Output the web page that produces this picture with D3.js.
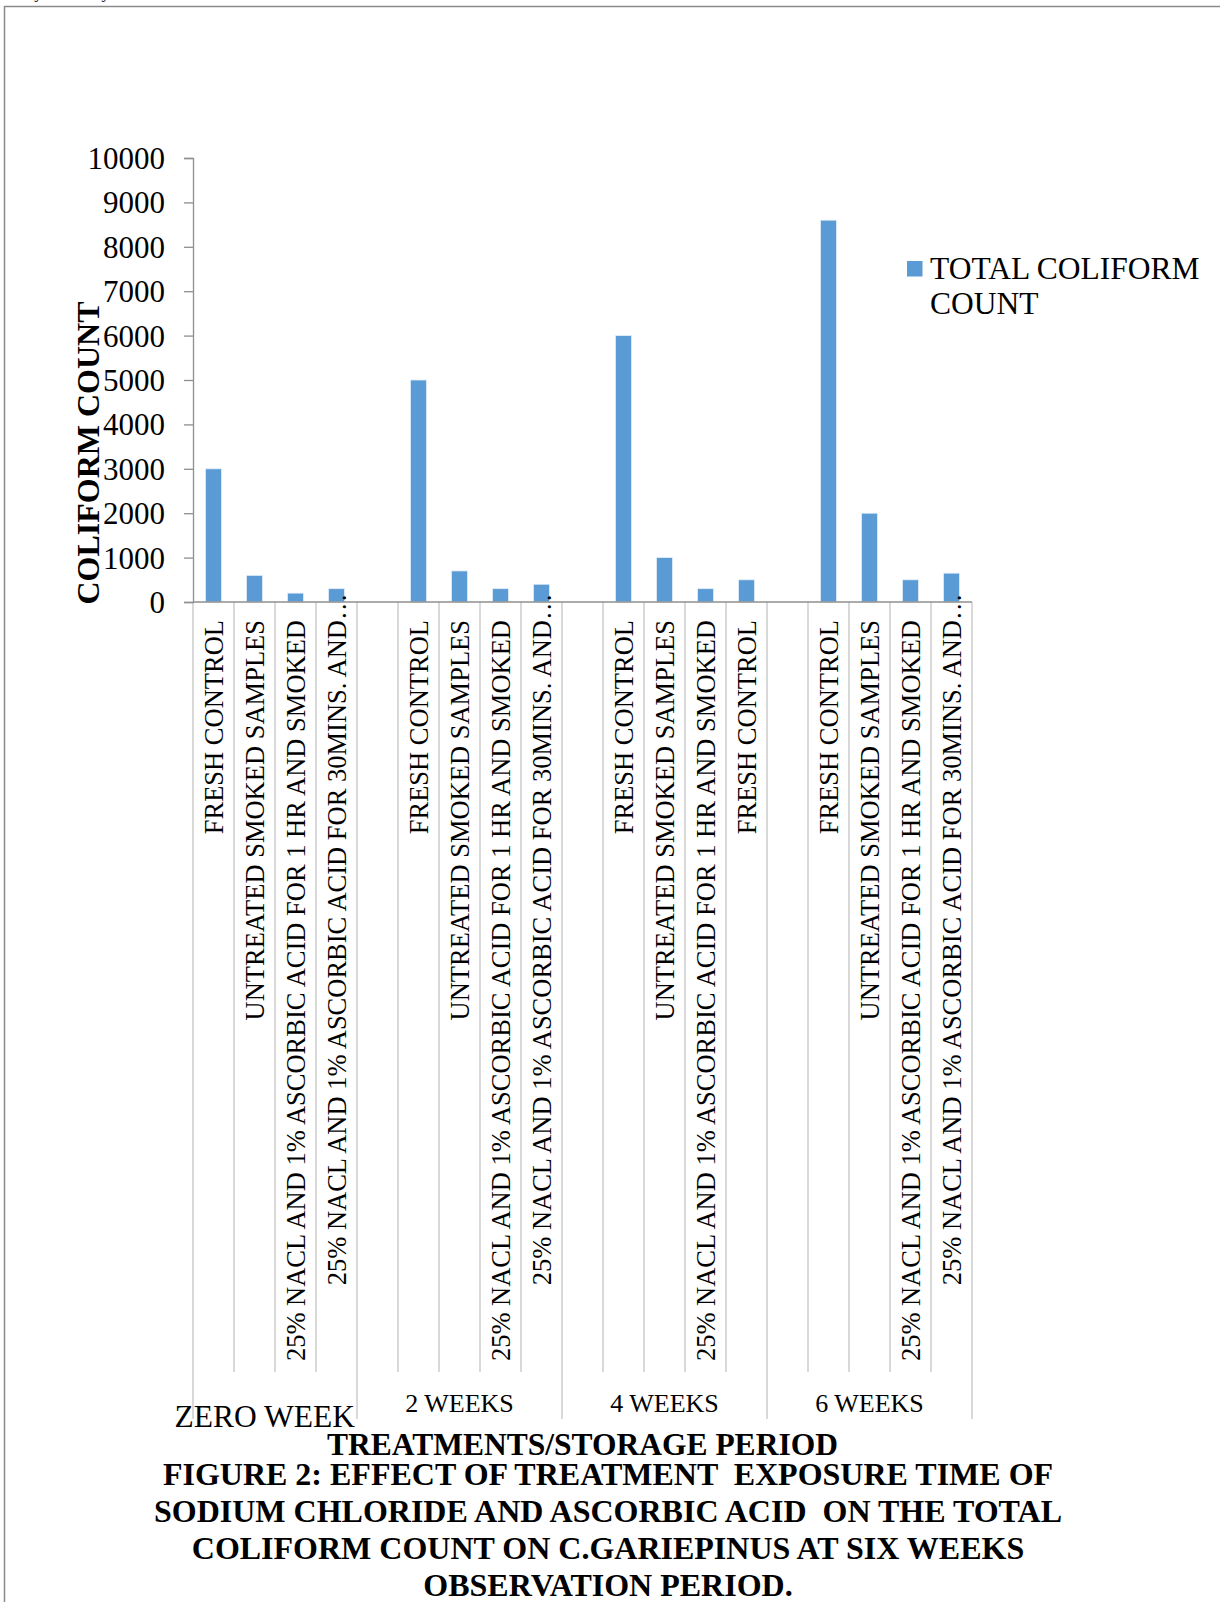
<!DOCTYPE html>
<html>
<head>
<meta charset="utf-8">
<script src="https://cdn.jsdelivr.net/npm/d3@7"></script>
<style>
  html, body { margin: 0; padding: 0; background: #fff; }
  svg { display: block; }
  text { font-family: "Liberation Serif", "Times New Roman", serif; fill: #000; }
</style>
</head>
<body>
<svg id="chart" width="1220" height="1602"></svg>
<script>
// Storage periods and how many category slots each one spans on the axis
const periods = ["ZERO WEEK", "2 WEEKS", "4 WEEKS", "6 WEEKS"];
const periodSlots = [4, 5, 5, 5];

// Category labels, one per slot (blank slots separate the periods)
const categoryLabels = [
  "FRESH CONTROL",
  "UNTREATED SMOKED SAMPLES",
  "25% NACL AND 1% ASCORBIC ACID FOR 1 HR AND SMOKED",
  "25% NACL AND 1% ASCORBIC ACID FOR 30MINS. AND…",
  "",
  "FRESH CONTROL",
  "UNTREATED SMOKED SAMPLES",
  "25% NACL AND 1% ASCORBIC ACID FOR 1 HR AND SMOKED",
  "25% NACL AND 1% ASCORBIC ACID FOR 30MINS. AND…",
  "",
  "FRESH CONTROL",
  "UNTREATED SMOKED SAMPLES",
  "25% NACL AND 1% ASCORBIC ACID FOR 1 HR AND SMOKED",
  "FRESH CONTROL",
  "",
  "FRESH CONTROL",
  "UNTREATED SMOKED SAMPLES",
  "25% NACL AND 1% ASCORBIC ACID FOR 1 HR AND SMOKED",
  "25% NACL AND 1% ASCORBIC ACID FOR 30MINS. AND…"
];

// Total coliform count per slot (null = blank slot)
const coliformCounts = [
  3000, 600, 200, 300,
  null, 5000, 700, 300, 400,
  null, 6000, 1000, 300, 500,
  null, 8600, 2000, 500, 650
];

const yTicks = [0, 1000, 2000, 3000, 4000, 5000, 6000, 7000, 8000, 9000, 10000];

const seriesName = ["TOTAL COLIFORM", "COUNT"];
const yTitle = "COLIFORM COUNT";
const xTitle = "TREATMENTS/STORAGE PERIOD";
const captionLines = [
  "FIGURE 2: EFFECT OF TREATMENT  EXPOSURE TIME OF",
  "SODIUM CHLORIDE AND ASCORBIC ACID  ON THE TOTAL",
  "COLIFORM COUNT ON C.GARIEPINUS AT SIX WEEKS",
  "OBSERVATION PERIOD."
];
const headerLeft = "January-February 2013";
const headerRight = "IOSR Journal of Research";

const barColor = "#5B9BD5";
const axisColor = "#8f8f8f";
const gridColor = "#b3b3b3";

const svg = d3.select("#chart");

// Page frame and running header (sits above the top edge of the page crop)
svg.append("line").attr("x1", 4).attr("x2", 1220).attr("y1", 6.5).attr("y2", 6.5)
  .attr("stroke", "#8a8a8a").attr("stroke-width", 1.5);
svg.append("line").attr("x1", 4.5).attr("x2", 4.5).attr("y1", 6).attr("y2", 1602)
  .attr("stroke", "#8a8a8a").attr("stroke-width", 1.5);
svg.append("text").attr("x", -10).attr("y", -2).attr("font-size", 17).attr("fill", "#555").text(headerLeft);
svg.append("text").attr("x", 905).attr("y", -2).attr("font-size", 17).attr("fill", "#555").text(headerRight);

// Scales
const plotLeft = 193, plotRight = 972, plotTop = 158, plotBottom = 602;
const x = d3.scaleBand().domain(d3.range(categoryLabels.length)).range([plotLeft, plotRight]);
const y = d3.scaleLinear().domain([0, 10000]).range([plotBottom, plotTop]);
const bw = x.bandwidth();

// Category separators: short between slots, long at period edges
const periodEdges = [0];
periodSlots.forEach(n => periodEdges.push(periodEdges[periodEdges.length - 1] + n));
const edgeX = i => (i < categoryLabels.length ? x(i) : x.range()[1]);
const boundaries = d3.range(categoryLabels.length + 1);
svg.append("g").selectAll("line").data(boundaries).join("line")
  .attr("x1", edgeX)
  .attr("x2", edgeX)
  .attr("y1", plotBottom)
  .attr("y2", i => periodEdges.includes(i) ? 1419 : 1372)
  .attr("stroke", gridColor).attr("stroke-width", 1);

// Bars
const barW = bw * 0.39;
svg.append("g").selectAll("rect")
  .data(coliformCounts.map((v, i) => ({ v, i })).filter(d => d.v !== null))
  .join("rect")
  .attr("x", d => x(d.i) + (bw - barW) / 2)
  .attr("width", barW)
  .attr("y", d => y(d.v))
  .attr("height", d => y(0) - y(d.v))
  .attr("fill", barColor)
  .attr("stroke", "#e3eef9").attr("stroke-width", 0.8);

// Y axis
const yAxis = d3.axisLeft(y).tickValues(yTicks).tickSize(9).tickPadding(19).tickFormat(d3.format("d"));
const gy = svg.append("g").attr("transform", `translate(${plotLeft},0)`).call(yAxis);
gy.select(".domain").attr("stroke", axisColor).attr("stroke-width", 1.3);
gy.selectAll(".tick line").attr("stroke", axisColor).attr("stroke-width", 1.3);
gy.selectAll(".tick text")
  .attr("font-family", "'Liberation Serif', 'Times New Roman', serif")
  .attr("font-size", 31).attr("fill", "#000").attr("dy", "0.34em");

// X axis baseline
svg.append("line").attr("x1", plotLeft).attr("x2", plotRight)
  .attr("y1", plotBottom).attr("y2", plotBottom)
  .attr("stroke", axisColor).attr("stroke-width", 1.3);

// Rotated category labels, ending just below the axis
svg.append("g").selectAll("text")
  .data(categoryLabels.map((t, i) => ({ t, i })).filter(d => d.t))
  .join("text")
  .attr("transform", d => `translate(${x(d.i) + bw / 2 + 9},620) rotate(-90)`)
  .attr("text-anchor", "end")
  .attr("dx", d => d.t.endsWith("…") ? "1em" : 0)
  .attr("font-size", 26.5)
  .text(d => d.t);

// Period labels under each group
svg.append("g").selectAll("text")
  .data(periods.map((p, k) => ({ p, k })))
  .join("text")
  .attr("x", d => d.k === 0
      ? edgeX(periodEdges[1]) - 2
      : (edgeX(periodEdges[d.k]) + edgeX(periodEdges[d.k + 1])) / 2)
  .attr("y", d => d.k === 0 ? 1427 : 1412)
  .attr("text-anchor", d => d.k === 0 ? "end" : "middle")
  .attr("font-size", d => d.k === 0 ? 31.5 : 26)
  .text(d => d.p);

// Axis titles
svg.append("text")
  .attr("transform", "translate(99,453) rotate(-90)")
  .attr("text-anchor", "middle").attr("font-weight", "bold").attr("font-size", 32)
  .text(yTitle);
svg.append("text")
  .attr("x", (plotLeft + plotRight) / 2).attr("y", 1455)
  .attr("text-anchor", "middle").attr("font-weight", "bold").attr("font-size", 31.5)
  .text(xTitle);

// Figure caption
svg.append("g").selectAll("text").data(captionLines).join("text")
  .attr("x", 608).attr("y", (d, i) => 1485 + i * 37)
  .attr("text-anchor", "middle").attr("font-weight", "bold").attr("font-size", 32)
  .style("white-space", "pre")
  .text(d => d);

// Legend
const lg = svg.append("g");
lg.append("rect").attr("x", 907).attr("y", 261).attr("width", 15.5).attr("height", 15.5).attr("fill", barColor);
lg.selectAll("text").data(seriesName).join("text")
  .attr("x", 930).attr("y", (d, i) => 279 + i * 35)
  .attr("font-size", 31.5)
  .text(d => d);
</script>
</body>
</html>
